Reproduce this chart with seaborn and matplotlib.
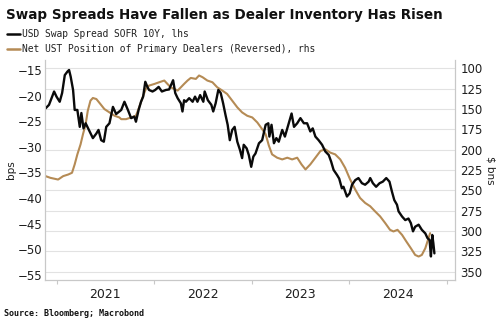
import matplotlib
matplotlib.use("Agg")
import matplotlib.pyplot as plt
import matplotlib.dates as mdates
import seaborn as sns
import pandas as pd

# USD Swap Spread SOFR 10Y (bps, lhs)
spread_dates = [
    "2020-11-21", "2020-12-04", "2020-12-23", "2021-01-01", "2021-01-13", "2021-01-22",
    "2021-02-01", "2021-02-11", "2021-02-17", "2021-02-23", "2021-03-04", "2021-03-10",
    "2021-03-20", "2021-03-29", "2021-04-04", "2021-04-12", "2021-04-20", "2021-05-05",
    "2021-05-17", "2021-05-30", "2021-06-07", "2021-06-17", "2021-06-27", "2021-07-06",
    "2021-07-18", "2021-07-31", "2021-08-12", "2021-08-24", "2021-08-31", "2021-09-12",
    "2021-09-25", "2021-10-07", "2021-10-19", "2021-10-25", "2021-11-04", "2021-11-13",
    "2021-11-21", "2021-11-29", "2021-12-07", "2021-12-13", "2021-12-26", "2022-01-05",
    "2022-01-18", "2022-01-30", "2022-02-14", "2022-02-26", "2022-03-13", "2022-03-21",
    "2022-03-30", "2022-04-11", "2022-04-17", "2022-04-23", "2022-04-30", "2022-05-12",
    "2022-05-25", "2022-06-03", "2022-06-12", "2022-06-22", "2022-07-04", "2022-07-09",
    "2022-07-21", "2022-08-03", "2022-08-10", "2022-08-19", "2022-08-29", "2022-09-07",
    "2022-09-16", "2022-09-25", "2022-10-03", "2022-10-11", "2022-10-20", "2022-10-29",
    "2022-11-08", "2022-11-18", "2022-11-26", "2022-12-02", "2022-12-13", "2022-12-21",
    "2022-12-30", "2023-01-07", "2023-01-15", "2023-01-28", "2023-02-09", "2023-02-22",
    "2023-03-04", "2023-03-08", "2023-03-16", "2023-03-25", "2023-04-03", "2023-04-12",
    "2023-04-25", "2023-05-05", "2023-05-14", "2023-05-23", "2023-05-30", "2023-06-08",
    "2023-06-20", "2023-07-02", "2023-07-15", "2023-07-27", "2023-08-08", "2023-08-17",
    "2023-08-27", "2023-09-08", "2023-09-21", "2023-10-03", "2023-10-16", "2023-10-25",
    "2023-11-03", "2023-11-16", "2023-11-24", "2023-12-04", "2023-12-10", "2023-12-23",
    "2024-01-02", "2024-01-11", "2024-01-23", "2024-02-04", "2024-02-17", "2024-02-29",
    "2024-03-13", "2024-03-19", "2024-03-29", "2024-04-10", "2024-04-23", "2024-05-05",
    "2024-05-18", "2024-05-30", "2024-06-08", "2024-06-17", "2024-06-27", "2024-07-03",
    "2024-07-16", "2024-07-28", "2024-08-09", "2024-08-18", "2024-08-26", "2024-09-03",
    "2024-09-16", "2024-09-28", "2024-10-11", "2024-10-19", "2024-10-27", "2024-11-01",
    "2024-11-06", "2024-11-10", "2024-11-14",
]
spread_values = [
    -22.5, -21.8, -19.2, -20.2, -21.2, -19.5,
    -16.0, -15.3, -15.0, -16.3, -18.9, -22.8,
    -22.8, -26.1, -23.4, -26.4, -25.4, -27.0,
    -28.3, -27.4, -26.7, -28.7, -29.0, -26.1,
    -25.4, -22.2, -23.6, -23.1, -22.8, -21.2,
    -22.8, -24.4, -24.1, -25.1, -22.8, -21.2,
    -20.2, -17.3, -18.3, -18.9, -19.2, -18.9,
    -18.3, -19.2, -18.9, -18.8, -17.0, -19.5,
    -20.5, -21.5, -23.1, -20.9, -21.2, -20.5,
    -21.2, -20.2, -21.2, -19.9, -21.2, -19.2,
    -20.9, -21.8, -23.1, -21.5, -18.9, -19.5,
    -21.5, -23.8, -25.7, -28.7, -26.7, -26.1,
    -29.0, -30.6, -32.2, -29.6, -30.3, -31.6,
    -33.9, -31.9, -31.3, -29.3, -28.7, -25.7,
    -25.4, -28.0, -25.7, -29.3, -28.3, -29.0,
    -26.7, -28.0, -26.4, -24.8, -23.5, -26.1,
    -25.4, -24.4, -25.4, -25.4, -27.0, -26.4,
    -28.0, -28.7, -29.6, -30.9, -31.6, -32.9,
    -34.5, -35.5, -36.2, -38.1, -37.8, -39.7,
    -39.1, -37.4, -36.5, -36.1, -37.1, -37.4,
    -36.8, -36.1, -37.1, -37.8, -37.1, -36.8,
    -36.1, -36.8, -38.7, -40.4, -41.3, -42.6,
    -43.6, -44.3, -44.0, -44.9, -46.5, -45.6,
    -45.2, -46.2, -46.9, -47.8, -48.2, -51.4,
    -47.2, -48.8, -50.8,
]

# Net UST Position of Primary Dealers ($ bns, rhs, reversed)
dealer_dates = [
    "2020-11-21", "2020-12-09", "2021-01-07", "2021-01-26", "2021-02-14", "2021-02-28",
    "2021-03-10", "2021-03-20", "2021-04-01", "2021-04-10", "2021-04-20", "2021-04-28",
    "2021-05-08", "2021-05-17", "2021-05-30", "2021-06-14", "2021-06-29", "2021-07-18",
    "2021-08-06", "2021-08-24", "2021-08-31", "2021-09-18", "2021-10-07", "2021-10-25",
    "2021-11-06", "2021-11-19", "2021-12-01", "2021-12-13", "2022-01-02", "2022-01-20",
    "2022-02-08", "2022-02-20", "2022-03-04", "2022-03-17", "2022-03-30", "2022-04-11",
    "2022-04-23", "2022-05-06", "2022-05-18", "2022-06-06", "2022-06-18", "2022-07-01",
    "2022-07-19", "2022-08-07", "2022-08-25", "2022-09-13", "2022-10-01", "2022-10-20",
    "2022-11-08", "2022-11-26", "2022-12-15", "2023-01-03", "2023-01-22", "2023-02-09",
    "2023-02-22", "2023-03-06", "2023-03-18", "2023-04-06", "2023-04-25", "2023-05-14",
    "2023-06-01", "2023-06-20", "2023-07-06", "2023-07-21", "2023-08-08", "2023-08-27",
    "2023-09-15", "2023-10-03", "2023-10-22", "2023-11-09", "2023-11-28", "2023-12-16",
    "2024-01-04", "2024-01-23", "2024-02-10", "2024-02-29", "2024-03-19", "2024-04-06",
    "2024-04-25", "2024-05-14", "2024-06-01", "2024-06-14", "2024-06-29", "2024-07-16",
    "2024-08-01", "2024-08-18", "2024-09-03", "2024-09-16", "2024-09-28", "2024-10-11",
    "2024-10-23", "2024-10-29",
]
dealer_values = [
    232.5, 234.6, 236.7, 232.5, 230.5, 228.4,
    218.1, 205.8, 193.5, 181.1, 168.8, 152.2,
    139.9, 136.6, 137.9, 144.0, 150.2, 154.3,
    158.4, 160.5, 162.6, 162.6, 160.5, 158.4,
    148.1, 135.8, 125.5, 121.4, 119.4, 117.3,
    115.2, 119.4, 123.5, 125.5, 127.5, 123.5,
    119.4, 115.2, 112.0, 113.2, 109.0, 111.1,
    115.2, 117.3, 123.5, 127.5, 131.7, 139.9,
    148.1, 154.3, 158.4, 160.5, 166.7, 174.9,
    181.1, 195.0, 205.8, 209.9, 212.0, 209.9,
    212.0, 209.9, 218.1, 224.3, 218.1, 209.9,
    201.6, 199.6, 203.7, 205.8, 212.0, 222.2,
    236.7, 249.0, 259.3, 265.4, 269.5, 275.7,
    281.9, 290.1, 298.4, 300.4, 298.4, 304.6,
    312.7, 321.0, 329.2, 331.2, 329.2, 321.0,
    308.6, 302.5,
]

year_labels = ["2021", "2022", "2023", "2024"]
left_ticks = [-15, -20, -25, -30, -35, -40, -45, -50, -55]
right_ticks = [100, 125, 150, 175, 200, 225, 250, 275, 300, 325, 350]

title = "Swap Spreads Have Fallen as Dealer Inventory Has Risen"
legend_black = "USD Swap Spread SOFR 10Y, lhs"
legend_gold = "Net UST Position of Primary Dealers (Reversed), rhs"
source = "Source: Bloomberg; Macrobond"

BLACK = "#0a0a0a"
GOLD = "#b58b55"
GRID = "#e2e2e2"
SPINE = "#c8c8c8"
TXT = "#1e1e1e"

spread_df = pd.DataFrame({"date": pd.to_datetime(spread_dates), "bps": spread_values})
dealer_df = pd.DataFrame({"date": pd.to_datetime(dealer_dates), "bns": dealer_values})

sns.set_theme(style="white")
plt.rcParams["font.family"] = ["DejaVu Sans"]

fig = plt.figure(figsize=(5.0, 3.27), dpi=100)
ax = fig.add_axes([0.09, 0.1437, 0.82, 0.6728])
ax2 = ax.twinx()

# gold series + grid on twin (drawn below)
sns.lineplot(data=dealer_df, x="date", y="bns", ax=ax2, color=GOLD, linewidth=1.5)
ax2.set_ylim(360, 90)
ax2.set_yticks(right_ticks)
ax2.grid(True, axis="y", color=GRID, linewidth=0.8)
ax2.grid(False, axis="x")

sns.lineplot(data=spread_df, x="date", y="bps", ax=ax, color=BLACK, linewidth=1.7)
ax.set_ylim(-56, -13.05)
ax.set_yticks(left_ticks)
ax.grid(False)

ax.set_zorder(ax2.get_zorder() + 1)
ax.patch.set_visible(False)

ax.set_xlim(pd.Timestamp("2020-11-19"), pd.Timestamp("2025-01-30"))

# year boundary ticks, labels centered mid-year
ax.xaxis.set_major_locator(mdates.YearLocator())
ax.xaxis.set_major_formatter(plt.NullFormatter())
mid = [pd.Timestamp(f"{y}-07-02") for y in year_labels]
ax.xaxis.set_minor_locator(plt.FixedLocator(mdates.date2num(mid)))
ax.xaxis.set_minor_formatter(plt.FixedFormatter(year_labels))
ax.tick_params(axis="x", which="major", length=3, width=0.8, color=SPINE, bottom=True)
ax.tick_params(axis="x", which="minor", length=0, pad=6, labelsize=9, labelcolor=TXT)

ax.tick_params(axis="y", which="both", length=0, pad=2, labelsize=8.5, labelcolor=TXT)
ax2.tick_params(axis="y", which="both", length=0, pad=4, labelsize=8.5, labelcolor=TXT)
ax2.tick_params(axis="x", which="both", length=0)

ax.set_xlabel("")
ax.set_ylabel("bps", fontsize=7.5, color=TXT, labelpad=1)
ax2.set_ylabel("$ bns", fontsize=7.5, color=TXT, rotation=270, labelpad=9)

for a in (ax, ax2):
    for side in ("left", "right", "bottom"):
        a.spines[side].set_visible(True)
        a.spines[side].set_color(SPINE)
        a.spines[side].set_linewidth(0.8)
    a.spines["top"].set_visible(False)

# title, legend, source
fig.text(0.012, 0.955, title, fontsize=9.75, fontweight="bold", color="#111111",
         ha="left", va="center")
for i, (lab, col) in enumerate([(legend_black, BLACK), (legend_gold, GOLD)]):
    yy = 0.897 - i * 0.046
    fig.add_artist(plt.Line2D([0.014, 0.040], [yy, yy], color=col, linewidth=1.8,
                              transform=fig.transFigure))
    fig.text(0.044, yy, lab, fontsize=6.9, family="DejaVu Sans Mono", color="#222222",
             ha="left", va="center")
fig.text(0.008, 0.042, source, fontsize=6, family="DejaVu Sans Mono", fontweight="bold",
         color="#111111", ha="left", va="center")

fig.savefig("out.png", dpi=100)
